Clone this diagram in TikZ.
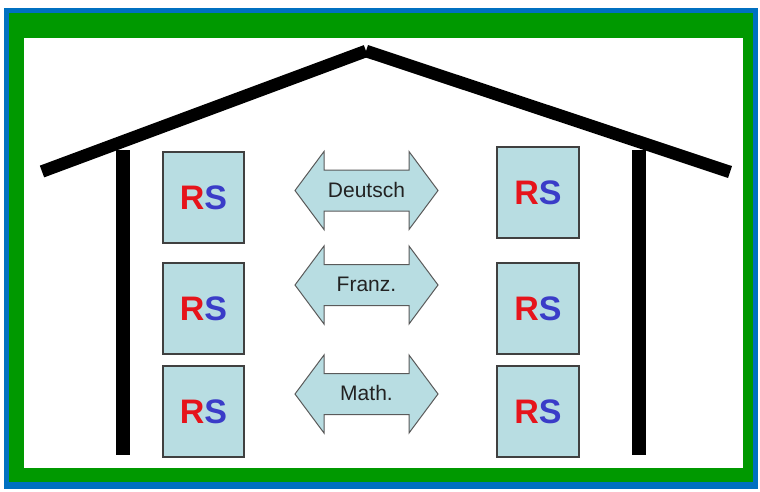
\documentclass[tikz,border=0pt]{standalone}
\usepackage{fontspec}
\setmainfont{Liberation Sans}
\definecolor{frameblue}{HTML}{0070C0}
\definecolor{framegreen}{HTML}{009900}
\definecolor{boxfill}{HTML}{B8DDE2}
\definecolor{boxline}{HTML}{404040}
\definecolor{arrowline}{HTML}{5A5A5A}
\definecolor{rsred}{HTML}{E6141B}
\definecolor{rsblue}{HTML}{3A3CC8}
\definecolor{labeltext}{HTML}{222222}
\newcommand{\rsmark}{\textcolor{rsred}{R}\textcolor{rsblue}{S}}
\tikzset{
  rsbox/.style={draw=boxline, line width=1.2pt, fill=boxfill,
    minimum width=81pt, minimum height=91pt, inner sep=0pt,
    font=\bfseries\fontsize{34}{34}\selectfont},
  subjectarrow/.style={draw=arrowline, line width=1pt, fill=boxfill, line join=miter},
  subjectlabel/.style={text=labeltext, inner sep=0pt, font=\fontsize{21}{21}\selectfont},
  roofbeam/.style={line width=12.5pt, line cap=butt, black},
  wallpost/.style={line width=14pt, line cap=butt, black}
}
% double-headed arrow outline around the current origin
\newcommand{\subjectshape}{%
  \draw[subjectarrow] (-71.5,0) -- (-42.5,-39) -- (-42.5,-20.5) -- (42.5,-20.5)
    -- (42.5,-39) -- (71.5,0) -- (42.5,39) -- (42.5,20.5) -- (-42.5,20.5)
    -- (-42.5,39) -- cycle;}
\begin{document}
\begin{tikzpicture}[x=1pt, y=-1pt]
  \useasboundingbox (0,0) rectangle (760,491);
  % frame: blue edge, green band, white inside
  \fill[white] (0,0) rectangle (760,491);
  \fill[frameblue] (4,8) rectangle (758,489);
  \fill[framegreen] (9,13) rectangle (753,482);
  \fill[white] (24,38) rectangle (743,468);

  % roof and walls
  \coordinate (eaveL) at (42,171.5);
  \coordinate (ridge) at (366,51);
  \coordinate (eaveR) at (730,172);
  \draw[roofbeam] (eaveL) -- (ridge);
  \draw[roofbeam] (ridge) -- (eaveR);
  \coordinate (wallLtop) at (122.5,150);
  \coordinate (wallLbot) at (122.5,455);
  \coordinate (wallRtop) at (638.5,150);
  \coordinate (wallRbot) at (638.5,455);
  \draw[wallpost] (wallLtop) -- (wallLbot);
  \draw[wallpost] (wallRtop) -- (wallRbot);

  % school boxes
  \node[rsbox] (left1)  at (203.5,197.5) {\rsmark};
  \node[rsbox] (left2)  at (203.5,308.5) {\rsmark};
  \node[rsbox] (left3)  at (203.5,411.5) {\rsmark};
  \node[rsbox, minimum width=82pt] (right1) at (538,192.5) {\rsmark};
  \node[rsbox, minimum width=82pt] (right2) at (538,308.5) {\rsmark};
  \node[rsbox, minimum width=82pt] (right3) at (538,411.5) {\rsmark};

  % subject exchange arrows
  \begin{scope}[shift={(366.5,190.5)}]
    \subjectshape
    \node[subjectlabel] (deutsch) at (0,-1) {Deutsch};
  \end{scope}
  \begin{scope}[shift={(366.5,285)}]
    \subjectshape
    \node[subjectlabel] (franz) at (0,-1) {Franz.};
  \end{scope}
  \begin{scope}[shift={(366.5,394)}]
    \subjectshape
    \node[subjectlabel] (math) at (0,-1) {Math.};
  \end{scope}
\end{tikzpicture}
\end{document}
